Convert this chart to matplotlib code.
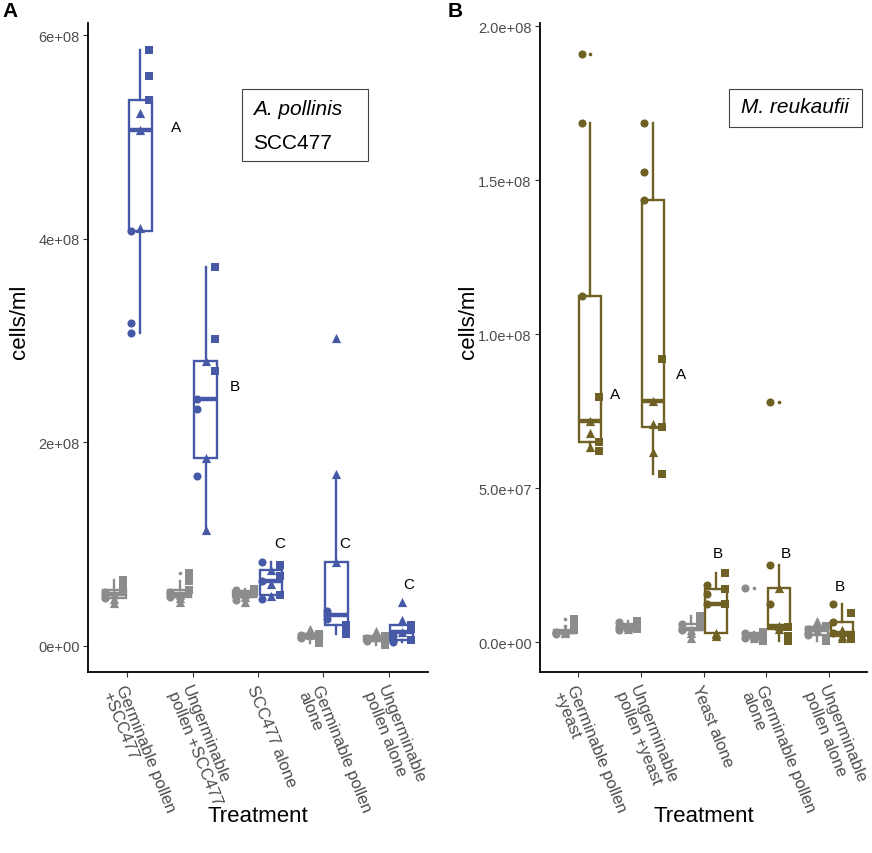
import numpy as np
import matplotlib
matplotlib.use("Agg")
import matplotlib.pyplot as plt
from matplotlib.patches import Rectangle

plt.rcParams["font.family"] = ["Liberation Sans", "DejaVu Sans"]

# treatments, panel A (A. pollinis SCC477) and panel B (M. reukaufii)
treat_a = ["Germinable pollen\n+SCC477", "Ungerminable\npollen +SCC477",
           "SCC477 alone", "Germinable pollen\nalone", "Ungerminable\npollen alone"]
treat_b = ["Germinable pollen\n+yeast", "Ungerminable\npollen +yeast",
           "Yeast alone", "Germinable pollen\nalone", "Ungerminable\npollen alone"]

# 9 replicates per group, ordered: 3 circles, 3 triangles, 3 squares
a_inoc = [
    [4.08e8, 3.17e8, 3.07e8, 5.24e8, 5.07e8, 4.10e8, 5.85e8, 5.60e8, 5.36e8],
    [2.42e8, 2.33e8, 1.67e8, 2.80e8, 1.84e8, 1.14e8, 3.72e8, 3.01e8, 2.70e8],
    [8.2e7, 6.3e7, 4.6e7, 7.4e7, 6.1e7, 4.9e7, 7.9e7, 6.8e7, 5.0e7],
    [3.4e7, 3.0e7, 2.6e7, 3.02e8, 1.69e8, 8.2e7, 2.0e7, 1.5e7, 1.1e7],
    [9.0e6, 4.5e6, 3.5e6, 4.24e7, 2.5e7, 1.38e7, 2.0e7, 1.6e7, 5.5e6],
]
a_ctrl = [
    [5.3e7, 5.0e7, 4.7e7, 5.1e7, 4.6e7, 4.2e7, 6.4e7, 5.8e7, 5.5e7],
    [5.3e7, 5.1e7, 4.8e7, 5.0e7, 4.7e7, 4.3e7, 7.1e7, 6.3e7, 5.5e7],
    [5.5e7, 5.0e7, 4.5e7, 5.1e7, 4.8e7, 4.3e7, 5.6e7, 5.4e7, 5.2e7],
    [1.0e7, 8.0e6, 7.0e6, 1.65e7, 1.3e7, 1.0e7, 1.1e7, 6.0e6, 3.0e6],
    [7.0e6, 6.0e6, 5.0e6, 1.45e7, 1.0e7, 8.0e6, 9.0e6, 3.0e6, 1.0e6],
]
b_inoc = [
    [1.91e8, 1.685e8, 1.124e8, 7.2e7, 6.8e7, 6.34e7, 7.98e7, 6.5e7, 6.2e7],
    [1.685e8, 1.527e8, 1.435e8, 7.85e7, 7.1e7, 6.18e7, 9.2e7, 6.99e7, 5.48e7],
    [1.85e7, 1.56e7, 1.24e7, 3.0e6, 2.7e6, 2.0e6, 2.26e7, 1.72e7, 1.24e7],
    [7.8e7, 2.5e7, 1.24e7, 1.77e7, 5.5e6, 4.5e6, 5.0e6, 2.0e6, 5.0e5],
    [1.24e7, 6.5e6, 3.2e6, 4.0e6, 2.0e6, 1.5e6, 9.7e6, 2.5e6, 1.0e6],
]
b_ctrl = [
    [3.5e6, 3.0e6, 2.6e6, 4.0e6, 3.5e6, 3.2e6, 7.5e6, 5.5e6, 4.0e6],
    [6.5e6, 5.0e6, 4.0e6, 5.5e6, 5.0e6, 4.5e6, 7.0e6, 6.0e6, 4.5e6],
    [6.0e6, 4.5e6, 4.0e6, 4.0e6, 3.0e6, 1.5e6, 8.5e6, 6.5e6, 5.0e6],
    [1.77e7, 3.0e6, 1.5e6, 2.5e6, 2.0e6, 1.5e6, 3.5e6, 1.0e6, 5.0e5],
    [4.5e6, 3.0e6, 2.5e6, 7.0e6, 5.0e6, 4.0e6, 5.5e6, 1.5e6, 5.0e5],
]

# significance letters and where they sit (x in category units, y in cells/ml)
letters_a = ["A", "B", "C", "C", "C"]
letter_x_a = [1.75, 2.65, 3.33, 4.33, 5.31]
letter_y_a = [5.1e8, 2.55e8, 1.01e8, 1.01e8, 6.1e7]
letters_b = ["A", "A", "B", "B", "B"]
letter_x_b = [1.59, 2.65, 3.22, 4.31, 5.17]
letter_y_b = [8.07e7, 8.7e7, 2.89e7, 2.89e7, 1.82e7]

yticks_a = [0, 2e8, 4e8, 6e8]
ytick_labels_a = ["0e+00", "2e+08", "4e+08", "6e+08"]
yticks_b = [0, 5e7, 1e8, 1.5e8, 2e8]
ytick_labels_b = ["0.0e+00", "5.0e+07", "1.0e+08", "1.5e+08", "2.0e+08"]

BLUE = "#4659A7"
OLIVE = "#6E6123"
GRAY = "#8C8C8C"
TXT = "#4D4D4D"

shapes = [("o", 34), ("^", 44), ("s", 30)]
shape_off = [-0.14, 0.0, 0.14]


def draw_panel(ax, labels, inoc, ctrl, color, ylim, yticks, yticklabels):
    pos = np.arange(1, len(labels) + 1)
    for data, c, off in [(ctrl, GRAY, -0.2), (inoc, color, 0.2)]:
        ax.boxplot(
            data, positions=pos + off, widths=0.35, patch_artist=True,
            showcaps=False, whis=1.5,
            boxprops=dict(facecolor="white", edgecolor=c, linewidth=1.7),
            whiskerprops=dict(color=c, linewidth=1.7),
            medianprops=dict(color=c, linewidth=3.2, solid_capstyle="butt"),
            flierprops=dict(marker="o", markersize=1.6, markerfacecolor=c,
                            markeredgecolor=c),
            zorder=2,
        )
        for i, vals in enumerate(data):
            for j, (m, s) in enumerate(shapes):
                ax.scatter(np.full(3, pos[i] + off + shape_off[j]),
                           vals[3 * j:3 * j + 3], marker=m, s=s, color=c,
                           linewidths=0, zorder=3)
    ax.set_xlim(0.4, 5.6)
    ax.set_ylim(*ylim)
    ax.set_xticks(pos)
    ax.set_xticklabels(labels, rotation=-68, ha="left", va="top",
                       rotation_mode="anchor", fontsize=12, color=TXT,
                       linespacing=1.0)
    ax.set_yticks(yticks)
    ax.set_yticklabels(yticklabels, fontsize=10.5, color=TXT)
    ax.tick_params(axis="both", length=3.5, width=0.8, color="#333333")
    ax.tick_params(axis="x", pad=4)
    ax.tick_params(axis="y", pad=2.5)
    for side in ["top", "right"]:
        ax.spines[side].set_visible(False)
    for side in ["left", "bottom"]:
        ax.spines[side].set_linewidth(1.3)
        ax.spines[side].set_color("black")
    ax.set_xlabel("Treatment", fontsize=16)
    ax.set_ylabel("cells/ml", fontsize=16)


fig = plt.figure(figsize=(8.72, 8.54), dpi=100)
ax_a = fig.add_axes([0.1009, 0.2119, 0.3899, 0.76])
ax_b = fig.add_axes([0.6193, 0.2119, 0.375, 0.76])

draw_panel(ax_a, treat_a, a_inoc, a_ctrl, BLUE, (-2.6e7, 6.12e8),
           yticks_a, ytick_labels_a)
draw_panel(ax_b, treat_b, b_inoc, b_ctrl, OLIVE, (-9.6e6, 2.01e8),
           yticks_b, ytick_labels_b)

for t, x, y in zip(letters_a, letter_x_a, letter_y_a):
    ax_a.text(x, y, t, fontsize=11, ha="center", va="center")
for t, x, y in zip(letters_b, letter_x_b, letter_y_b):
    ax_b.text(x, y, t, fontsize=11, ha="center", va="center")

ax_a.xaxis.set_label_coords(0.5, -0.205)
ax_b.xaxis.set_label_coords(0.5, -0.205)
ax_a.yaxis.set_label_coords(-0.17, 0.541)
ax_b.yaxis.set_label_coords(-0.187, 0.541)

# species boxes
ax_a.add_patch(Rectangle((0.453, 0.787), 0.3705, 0.111, transform=ax_a.transAxes,
                         facecolor="white", edgecolor="#444444", linewidth=0.8,
                         zorder=4))
ax_a.text(0.485, 0.8675, "A. pollinis", style="italic", fontsize=15,
          transform=ax_a.transAxes, va="center", zorder=5)
ax_a.text(0.485, 0.8166, "SCC477", fontsize=15, transform=ax_a.transAxes,
          va="center", zorder=5)
ax_b.add_patch(Rectangle((0.578, 0.840), 0.407, 0.058, transform=ax_b.transAxes,
                         facecolor="white", edgecolor="#444444", linewidth=0.8,
                         zorder=4))
ax_b.text(0.615, 0.8706, "M. reukaufii", style="italic", fontsize=15,
          transform=ax_b.transAxes, va="center", zorder=5)

fig.text(0.003, 0.998, "A", fontsize=15, fontweight="bold", va="top")
fig.text(0.513, 0.998, "B", fontsize=15, fontweight="bold", va="top")

fig.savefig("out.png", dpi=100)
